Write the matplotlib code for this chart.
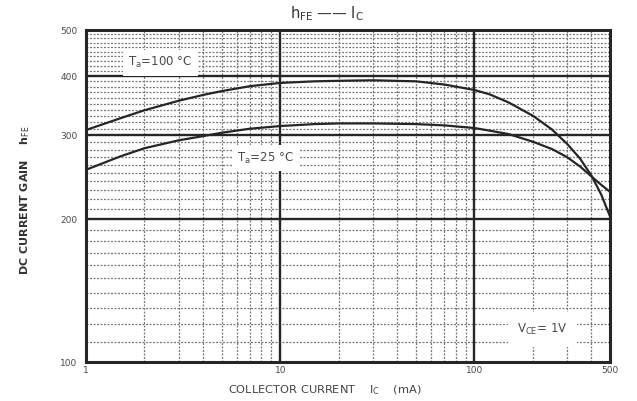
import numpy as np
import matplotlib.pyplot as plt
from matplotlib.ticker import FixedLocator, NullFormatter

# Collector current (mA) and DC current gain readings
ic_100 = [1, 1.5, 2, 3, 4, 5, 7, 10, 15, 20, 30, 50, 70, 100, 120, 150, 200, 250, 300, 350, 400, 450, 500]
hfe_100 = [308, 326, 339, 355, 365, 372, 381, 387, 390, 391, 392, 390, 384, 374, 366, 352, 330, 309, 288, 268, 247, 225, 202]

ic_25 = [1, 1.5, 2, 3, 4, 5, 7, 10, 15, 20, 30, 50, 70, 100, 120, 150, 200, 250, 300, 350, 400, 450, 500]
hfe_25 = [254, 271, 282, 293, 299, 304, 310, 314, 317, 318, 318, 317, 315, 311, 307, 302, 291, 281, 270, 258, 246, 236, 228]

x_ticks = [1, 10, 100, 500]
x_ticklabels = ["1", "10", "100", "500"]
y_ticks = [100, 200, 300, 400, 500]
y_ticklabels = ["100", "200", "300", "400", "500"]

x_minor = [2, 3, 4, 5, 6, 7, 8, 9, 20, 30, 40, 50, 60, 70, 80, 90, 200, 300, 400]
y_minor = [v for v in range(110, 500, 10) if v % 100 != 0]

INK = "#262626"
TXT = "#4a4a4a"

fig = plt.figure(figsize=(6.37, 4.01), dpi=100)
ax = fig.add_axes([0.135, 0.097, 0.823, 0.828])
ax.set_xscale("log")
ax.set_yscale("log")
ax.set_xlim(1, 500)
ax.set_ylim(100, 500)

# dense chart-paper grid
for v in x_minor:
    ax.axvline(v, color="#7a7a7a", lw=0.9, ls=(0, (1.6, 1.2)), zorder=1)
for v in y_minor:
    ax.axhline(v, color="#7a7a7a", lw=0.9, ls=(0, (1.6, 1.2)), zorder=1)
for v in [10, 100]:
    ax.axvline(v, color=INK, lw=1.7, zorder=2)
for v in [200, 300, 400]:
    ax.axhline(v, color=INK, lw=1.7, zorder=2)

ax.plot(ic_100, hfe_100, color=INK, lw=1.6, zorder=4)
ax.plot(ic_25, hfe_25, color=INK, lw=1.6, zorder=4)

for s in ax.spines.values():
    s.set_linewidth(2.2)
    s.set_color(INK)

ax.xaxis.set_major_locator(FixedLocator(x_ticks))
ax.set_xticklabels(x_ticklabels)
ax.yaxis.set_major_locator(FixedLocator(y_ticks))
ax.set_yticklabels(y_ticklabels)
ax.xaxis.set_minor_formatter(NullFormatter())
ax.yaxis.set_minor_formatter(NullFormatter())
ax.tick_params(which="both", length=0, labelsize=6.5, colors=TXT, pad=6)
ax.tick_params(axis="x", pad=3)

box = dict(facecolor="white", edgecolor="none", pad=4)
ax.text(1.65, 427, r"T$_{\rm a}$=100 °C", fontsize=8.5, color=TXT, va="center",
        bbox=box, zorder=5)
ax.text(6.0, 269, r"T$_{\rm a}$=25 °C", fontsize=8.5, color=TXT, va="center",
        bbox=box, zorder=5)
ax.text(166, 117, r"V$_{\rm CE}$= 1V", fontsize=8.5, color=TXT, va="center",
        bbox=dict(facecolor="white", edgecolor="none", pad=7), zorder=5)

fig.text(0.455, 0.965, r"h$_{\rm FE}$ —— I$_{\rm C}$", fontsize=10.5, color="#333333",
         va="center")
fig.text(0.04, 0.5, r"DC CURRENT GAIN    h$_{\rm FE}$", rotation=90, fontsize=8,
         color="#333333", va="center", ha="center", fontweight="bold")
fig.text(0.358, 0.028, r"COLLECTOR CURRENT    I$_{\rm C}$    (mA)", fontsize=8.2,
         color="#444444", va="center")

fig.savefig("out.png", dpi=100)
